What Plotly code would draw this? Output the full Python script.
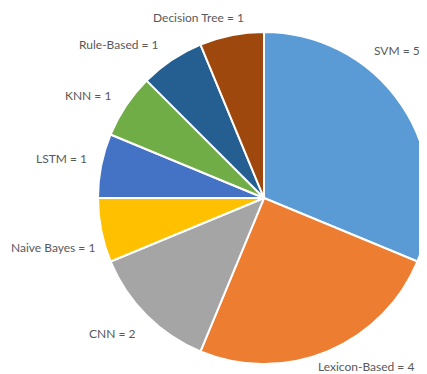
import plotly.graph_objects as go

labels = ["SVM", "Lexicon-Based", "CNN", "Naive Bayes", "LSTM", "KNN", "Rule-Based", "Decision Tree"]
values = [5, 4, 2, 1, 1, 1, 1, 1]
colors = ["#5B9BD5", "#ED7D31", "#A5A5A5", "#FFC000", "#4472C4", "#70AD47", "#255E91", "#9E480E"]

# label anchor positions in page pixels (x, y from top, horizontal anchor), layout only
label_pos = [(397, 50, "center"), (416, 366, "right"), (112, 333, "center"), (53, 247, "center"),
             (61, 158, "center"), (88, 95, "center"), (119, 45, "center"), (198, 18, "center")]

W, H = 427, 374
OFF = 8  # page body margin offset

fig = go.Figure(go.Pie(
    labels=labels, values=values, sort=False, direction="clockwise", rotation=0,
    marker=dict(colors=colors, line=dict(color="white", width=2)),
    textinfo="none", hoverinfo="label+value",
    domain=dict(x=[0.2108, 0.9883], y=[0.0481, 0.9358]),
))

for lab, val, (px, py, anc) in zip(labels, values, label_pos):
    fig.add_annotation(
        x=(px - OFF) / W, y=1 - (py - OFF) / H, xref="paper", yref="paper",
        text=f"{lab} = {val}", showarrow=False,
        font=dict(family="Lato, Open Sans, sans-serif", size=12, color="#595959"),
        xanchor=anc, yanchor="middle",
    )

fig.update_layout(
    width=W, height=H, margin=dict(l=0, r=0, t=0, b=0),
    showlegend=False, paper_bgcolor="white", plot_bgcolor="white",
)

fig.write_html("out.html")
